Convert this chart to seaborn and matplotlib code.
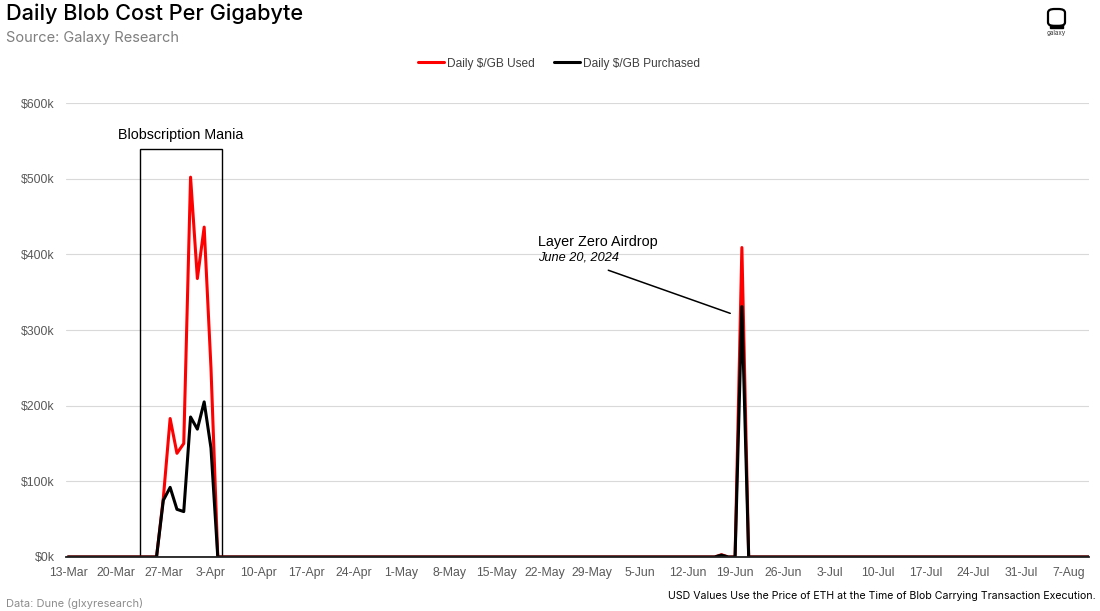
import numpy as np
import pandas as pd
import matplotlib
matplotlib.use("Agg")
import matplotlib.pyplot as plt
import matplotlib.dates as mdates
from matplotlib.patches import Rectangle, FancyBboxPatch
from matplotlib.ticker import FuncFormatter, MultipleLocator
from matplotlib.lines import Line2D
import seaborn as sns

# ---------------- data ----------------
start_date = "2024-03-13"
end_date = "2024-08-10"
# days with non-zero values; every other day reads as $0
active_dates = ["2024-03-27", "2024-03-28", "2024-03-29", "2024-03-30", "2024-03-31",
                "2024-04-01", "2024-04-02", "2024-04-03",
                "2024-06-17", "2024-06-20"]
used_values = [78000, 183000, 137000, 150000, 502000, 368000, 436000, 250000,
               3000, 409000]
purchased_values = [75000, 92000, 63000, 60000, 185000, 169000, 205000, 144000,
                    2500, 331000]
series_names = ["Daily $/GB Used", "Daily $/GB Purchased"]
series_colors = ["#FF0000", "#000000"]
tick_start = "2024-03-13"
tick_end = "2024-08-07"

# ---------------- build long-form table ----------------
dates = pd.date_range(start_date, end_date, freq="D")
used = pd.Series(0.0, index=dates)
purchased = pd.Series(0.0, index=dates)
used.loc[pd.to_datetime(active_dates)] = used_values
purchased.loc[pd.to_datetime(active_dates)] = purchased_values
df = pd.concat([
    pd.DataFrame({"date": dates, "value": used.values, "series": series_names[0]}),
    pd.DataFrame({"date": dates, "value": purchased.values, "series": series_names[1]}),
])

sns.set_theme(style="white")
plt.rcParams["font.family"] = ["Liberation Sans", "DejaVu Sans"]

fig = plt.figure(figsize=(11, 6.11), dpi=100)
ax = fig.add_axes([0.06, 0.0884, 0.93, 0.743])

sns.lineplot(data=df, x="date", y="value", hue="series", hue_order=series_names,
             palette=dict(zip(series_names, series_colors)), linewidth=2.2,
             ax=ax, legend=False, zorder=3)

ax.set_ylim(0, 600000)
ax.set_xlim(pd.Timestamp("2024-03-12 16:48"), pd.Timestamp("2024-08-10 00:00"))
ax.yaxis.set_major_locator(MultipleLocator(100000))
ax.yaxis.set_major_formatter(FuncFormatter(lambda v, p: f"${int(v/1000)}k"))
ax.set_xticks(pd.date_range(tick_start, tick_end, freq="7D"))
ax.xaxis.set_major_formatter(mdates.DateFormatter("%-d-%b"))
ax.tick_params(axis="both", length=0, labelsize=8.8, labelcolor="#595959")
ax.tick_params(axis="y", pad=8)
ax.tick_params(axis="x", pad=7)
ax.set_xlabel("")
ax.set_ylabel("")
ax.grid(axis="y", color="#D9D9D9", linewidth=0.8)
ax.grid(axis="x", visible=False)
for s in ["top", "right", "left"]:
    ax.spines[s].set_visible(False)
ax.spines["bottom"].set_color("#222222")
ax.spines["bottom"].set_linewidth(1.3)
ax.spines["bottom"].set_zorder(4)

def d(s):
    return mdates.date2num(pd.Timestamp(s))

# Blobscription Mania box
x0 = d("2024-03-23 13:00")
x1 = d("2024-04-04 14:00")
ax.add_patch(Rectangle((x0, 0), x1 - x0, 539000, fill=False, edgecolor="#000000",
                       linewidth=1.0, zorder=2))
ax.text((x0 + x1) / 2, 548000, "Blobscription Mania", ha="center", va="bottom",
        fontsize=10.3, color="#000000")

# Layer Zero annotation
ax.text(d("2024-05-21 00:00"), 416500, "Layer Zero Airdrop",
        ha="left", va="center", fontsize=10.4, color="#000000")
ax.text(d("2024-05-21 00:00"), 395500, "June 20, 2024",
        ha="left", va="center", fontsize=9.2, style="italic", color="#000000")
ax.annotate("", xy=(d("2024-06-18 07:00"), 322000),
            xytext=(d("2024-05-31 09:00"), 379000),
            arrowprops=dict(arrowstyle="-", color="#000000", lw=1.1,
                            shrinkA=0, shrinkB=0))

# legend
handles = [Line2D([0], [0], color=c, lw=2.2) for c in series_colors]
fig.legend(handles, series_names, loc="center", bbox_to_anchor=(0.508, 0.896), ncol=2,
           frameon=False, fontsize=8.6, handlelength=2.2, handletextpad=0.25,
           columnspacing=1.6, labelcolor="#404040")

# titles
fig.text(0.005, 0.977, "Daily Blob Cost Per Gigabyte", ha="left", va="center",
         fontsize=15.6, family=["Inter", "DejaVu Sans"], fontweight="medium", color="#000000")
fig.text(0.005, 0.938, "Source: Galaxy Research", ha="left", va="center",
         fontsize=10.5, family=["Inter", "DejaVu Sans"], color="#7F7F7F")
fig.text(0.005, 0.013, "Data: Dune (glxyresearch)", ha="left", va="center",
         fontsize=7.95, family=["Inter", "DejaVu Sans"], color="#8C8C8C")
fig.text(0.996, 0.025, "USD Values Use the Price of ETH at the Time of Blob Carrying Transaction Execution.",
         ha="right", va="center", fontsize=7.6, family=["Inter", "DejaVu Sans"], color="#000000")

# logo
fig.patches.append(FancyBboxPatch((1048 / 1100, 1 - 26 / 611), 17 / 1100, 17 / 611,
                                  boxstyle="round,pad=0,rounding_size=0.006",
                                  transform=fig.transFigure, fill=False,
                                  edgecolor="#000000", linewidth=1.6))
fig.patches.append(Rectangle((1050 / 1100, 1 - 27.5 / 611), 13 / 1100, 2.5 / 611,
                             transform=fig.transFigure, color="#000000"))
fig.text(1056.5 / 1100, 1 - 33 / 611, "galaxy", ha="center", va="center", fontsize=4.5,
         family=["Inter", "DejaVu Sans"], color="#333333")

fig.savefig("out.png", dpi=100)
